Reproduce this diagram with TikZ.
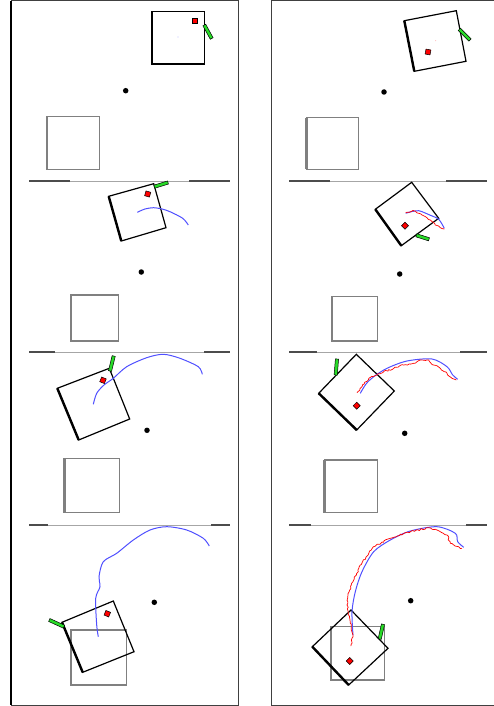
\documentclass[tikz,border=0pt]{standalone}
\usetikzlibrary{calc,decorations.pathmorphing}
\definecolor{trajblue}{RGB}{80,80,255}
\definecolor{barfill}{RGB}{40,220,40}
\tikzset{
  frame/.style={draw=black!75,line width=1pt},
  sepline/.style={draw=black!35,line width=0.8pt},
  sepend/.style={draw=black!70,line width=1.3pt},
  boxedge/.style={draw=black,line width=1.2pt,line join=miter},
  boxthick/.style={draw=black,line width=2.4pt},
  goalbox/.style={draw=black!50,line width=1.2pt},
  goalthick/.style={draw=black!50,line width=2.4pt},
  target/.style={circle,fill=black,inner sep=0pt,minimum size=5.5pt},
  redmark/.style={draw=black,fill=red,line width=0.5pt,inner sep=0pt,minimum size=5pt},
  bluetraj/.style={draw=trajblue,line width=1pt},
  redtraj/.style={draw=red,line width=0.7pt,line join=round,decorate,decoration={random steps,segment length=1.8pt,amplitude=0.8pt}},
}
\newcommand{\gbar}[2]{%
  \filldraw[fill=barfill,draw=black,line width=0.5pt]
    ($(#1)!1.6pt!90:(#2)$) -- ($(#2)!1.6pt!-90:(#1)$) -- ($(#2)!1.6pt!90:(#1)$) -- ($(#1)!1.6pt!-90:(#2)$) -- cycle;}
\newcommand{\sep}[5]{% y, x1, x2, a, b
  \draw[sepline] (#2,#1) -- (#3,#1);
  \draw[sepend] (#2,#1) -- (#4,#1);
  \draw[sepend] (#5,#1) -- (#3,#1);}
\begin{document}
\begin{tikzpicture}[x=1pt,y=-1pt]
\useasboundingbox (0,0) rectangle (494,706);
\pgfmathsetseed{7}
% frames
\draw[frame] (11,1) rectangle (238,705);
\draw[draw=black,line width=1.2pt] (11,1) -- (11,705);
\draw[frame] (499,1) -- (271,1) -- (271,705) -- (499,705);
% separators
\sep{181}{29}{230}{70}{189}
\sep{181}{289}{487}{330}{446}
\sep{352}{29}{230}{55}{204}
\sep{352}{289}{487}{317}{460}
\sep{525}{29}{230}{48}{211}
\sep{525}{289}{487}{311}{466}

% ---------- Panel 1 (left top)
\draw[goalbox] (46.7,116.7) rectangle (99.3,169.3);
\draw[goalthick] (46.7,116.7) -- (46.7,169.3);
\node[target] (t1) at (125.7,90.7) {};
\coordinate (a1) at (151.7,11.7); \coordinate (b1) at (204.7,11.7);
\coordinate (c1) at (204.7,64); \coordinate (d1) at (151.7,64);
\draw[boxedge] (a1) -- (b1) -- (c1) -- (d1) -- cycle;
\draw[boxthick] (a1) -- (d1);
\node[redmark] (r1) at (195,20.7) {};
\coordinate (g1a) at (204.3,25); \coordinate (g1b) at (211.7,38.5);
\gbar{g1a}{g1b}
\fill[trajblue] (178,37) circle (0.4pt);

% ---------- Panel 2 (right top)
\draw[goalbox] (306.3,117.7) rectangle (358.3,169.3);
\draw[goalthick] (306.3,117.7) -- (306.3,169.3);
\node[target] (t2) at (384,92) {};
\coordinate (a2) at (404.3,20.7); \coordinate (b2) at (456.3,10.7);
\coordinate (c2) at (466,61.3); \coordinate (d2) at (414.3,71.3);
\draw[boxedge] (a2) -- (b2) -- (c2) -- (d2) -- cycle;
\draw[boxthick] (a2) -- (d2);
\node[redmark,rotate=-11] (r2) at (428,52) {};
\coordinate (g2a) at (459.3,29.3); \coordinate (g2b) at (470,40);
\gbar{g2a}{g2b}
\fill[red!60] (435.7,40.7) circle (0.4pt);

% ---------- Panel 3 (left, row 2)
\draw[goalbox] (71,295) rectangle (118.3,341);
\draw[goalthick] (71,295) -- (71,341);
\node[target] (t3) at (141.3,272) {};
\coordinate (a3) at (108.7,196.3); \coordinate (b3) at (153.7,183.7);
\coordinate (c3) at (166,227.7); \coordinate (d3) at (121.3,241);
\draw[boxedge] (a3) -- (b3) -- (c3) -- (d3) -- cycle;
\draw[boxthick] (a3) -- (d3);
\node[redmark,rotate=-16] (r3) at (147.7,194) {};
\coordinate (g3a) at (154.3,186.7); \coordinate (g3b) at (168,182.5);
\gbar{g3a}{g3b}
\draw[bluetraj] plot[smooth] coordinates {(137.3,212.3) (145,209) (153.3,207.7) (162,209) (170,211.7) (182.7,218.3) (188.3,225)};

% ---------- Panel 4 (right, row 2)
\draw[goalbox] (331.7,296.3) rectangle (377.3,341);
\draw[goalthick] (331.7,296.3) -- (331.7,341);
\node[target] (t4) at (399.7,274) {};
\coordinate (a4) at (375.3,209.3); \coordinate (b4) at (411.7,182.3);
\coordinate (c4) at (438.7,218.3); \coordinate (d4) at (401.3,245.7);
\draw[boxedge] (a4) -- (b4) -- (c4) -- (d4) -- cycle;
\draw[boxthick] (a4) -- (d4);
\node[redmark,rotate=45] (r4) at (405,225.7) {};
\coordinate (g4a) at (416.3,235.3); \coordinate (g4b) at (429,239.3);
\gbar{g4a}{g4b}
\draw[bluetraj] plot[smooth] coordinates {(405.7,213.3) (412,211.5) (418.7,210.7) (424,212.5) (429.7,215) (438.7,219.3) (444.3,228.3)};
\draw[redtraj] (405.7,212.7) -- (413.7,211) -- (418.7,213.3) -- (422,215) -- (427,217.7) -- (432,221.7) -- (435.3,225) -- (440.3,227.7) -- (444.3,229);

% ---------- Panel 5 (left, row 3)
\draw[goalbox] (64.3,458.3) rectangle (119.3,512.7);
\draw[goalthick] (64.3,458.3) -- (64.3,512.7);
\node[target] (t5) at (147,430.3) {};
\coordinate (a5) at (57.3,388.3); \coordinate (b5) at (109.3,368.3);
\coordinate (c5) at (129.7,419); \coordinate (d5) at (78.7,440);
\draw[boxedge] (a5) -- (b5) -- (c5) -- (d5) -- cycle;
\draw[boxthick] (a5) -- (d5);
\node[redmark,rotate=-22] (r5) at (103,380.3) {};
\coordinate (g5a) at (110,371); \coordinate (g5b) at (113.7,356);
\gbar{g5a}{g5b}
\draw[bluetraj] plot[smooth] coordinates {(93.3,404.3) (96.7,393.3) (104,385) (113.3,378.3) (126.7,366.7) (146.7,357.7) (163.3,354.3) (180,358.3) (198.3,366.7) (202.3,374.3)};

% ---------- Panel 6 (right, row 3)
\draw[goalbox] (324.3,460) rectangle (377.7,512.7);
\draw[goalthick] (324.3,460) -- (324.3,512.7);
\node[target] (t6) at (404.7,433.3) {};
\coordinate (a6) at (318.7,393.3); \coordinate (b6) at (356.3,354.3);
\coordinate (c6) at (394.3,391); \coordinate (d6) at (356.7,430);
\draw[boxedge] (a6) -- (b6) -- (c6) -- (d6) -- cycle;
\draw[boxthick] (a6) -- (d6);
\node[redmark,rotate=45] (r6) at (356.7,405.7) {};
\coordinate (g6a) at (335.7,375); \coordinate (g6b) at (337,359);
\gbar{g6a}{g6b}
\draw[bluetraj] plot[smooth] coordinates {(360.3,393.3) (366,384) (373.7,376.7) (387,368.3) (407,361) (432,359) (447,366.7) (452.7,375) (457.7,379.3)};
\draw[redtraj] (357,392.7) -- (362,386.7) -- (368.7,378.3) -- (375.3,375.7) -- (383.7,371.7) -- (393.7,368.3) -- (403.7,365) -- (413.7,363.3) -- (420.3,360) -- (428.7,360) -- (433.7,365) -- (440.3,368.3) -- (447,373.3) -- (452,378.3) -- (456.3,380);

% ---------- Panel 7 (left, row 4)
\draw[goalbox] (71,630) rectangle (126.7,685);
\draw[goalthick] (71,630) -- (71,685);
\node[target] (t7) at (154.3,602.3) {};
\coordinate (a7) at (62,622.3); \coordinate (b7) at (113.3,601);
\coordinate (c7) at (134,651.7); \coordinate (d7) at (82.7,672.3);
\draw[boxedge] (a7) -- (b7) -- (c7) -- (d7) -- cycle;
\draw[boxthick] (a7) -- (d7);
\node[redmark,rotate=-22] (r7) at (107.3,613.7) {};
\coordinate (g7a) at (49.3,620) ; \coordinate (g7b) at (64,626.7);
\gbar{g7a}{g7b}
\draw[bluetraj] plot[smooth] coordinates {(98.3,636.7) (96.7,625) (95.7,598.3) (100,586.7) (99,576.7) (103.3,561.7) (116.7,553.3) (133.3,540) (150,530) (166.7,526.7) (186.7,530) (203.3,538.3) (209.3,546)};

% ---------- Panel 8 (right, row 4)
\draw[goalbox] (331,626.7) rectangle (384.3,680);
\draw[goalthick] (331,626.7) -- (331,680);
\node[target] (t8) at (410.7,600.7) {};
\coordinate (a8) at (312.3,646.7); \coordinate (b8) at (351,610);
\coordinate (c8) at (388,648.3); \coordinate (d8) at (348.7,685);
\draw[boxedge] (a8) -- (b8) -- (c8) -- (d8) -- cycle;
\draw[boxthick] (a8) -- (d8);
\node[redmark,rotate=45] (r8) at (349.7,661) {};
\coordinate (g8a) at (379.7,639); \coordinate (g8b) at (383,624.3);
\gbar{g8a}{g8b}
\draw[bluetraj] plot[smooth] coordinates {(353,635) (352,611.7) (355.3,591.7) (362,571.7) (373.7,551.7) (390.3,540) (410.3,531) (437,526.7) (455.3,533.3) (457.7,541.7) (463.7,547.3)};
\draw[redtraj] (351,646) -- (353,635) -- (350,620) -- (347,605) -- (349,592) -- (353,581.7) -- (360.3,565) -- (373.7,546.7) -- (390.3,538.3) -- (410.3,531.7) -- (428.7,527.7) -- (437,530) -- (447,535) -- (450.3,543.3) -- (455,546) -- (462,548.3);
\end{tikzpicture}
\end{document}
